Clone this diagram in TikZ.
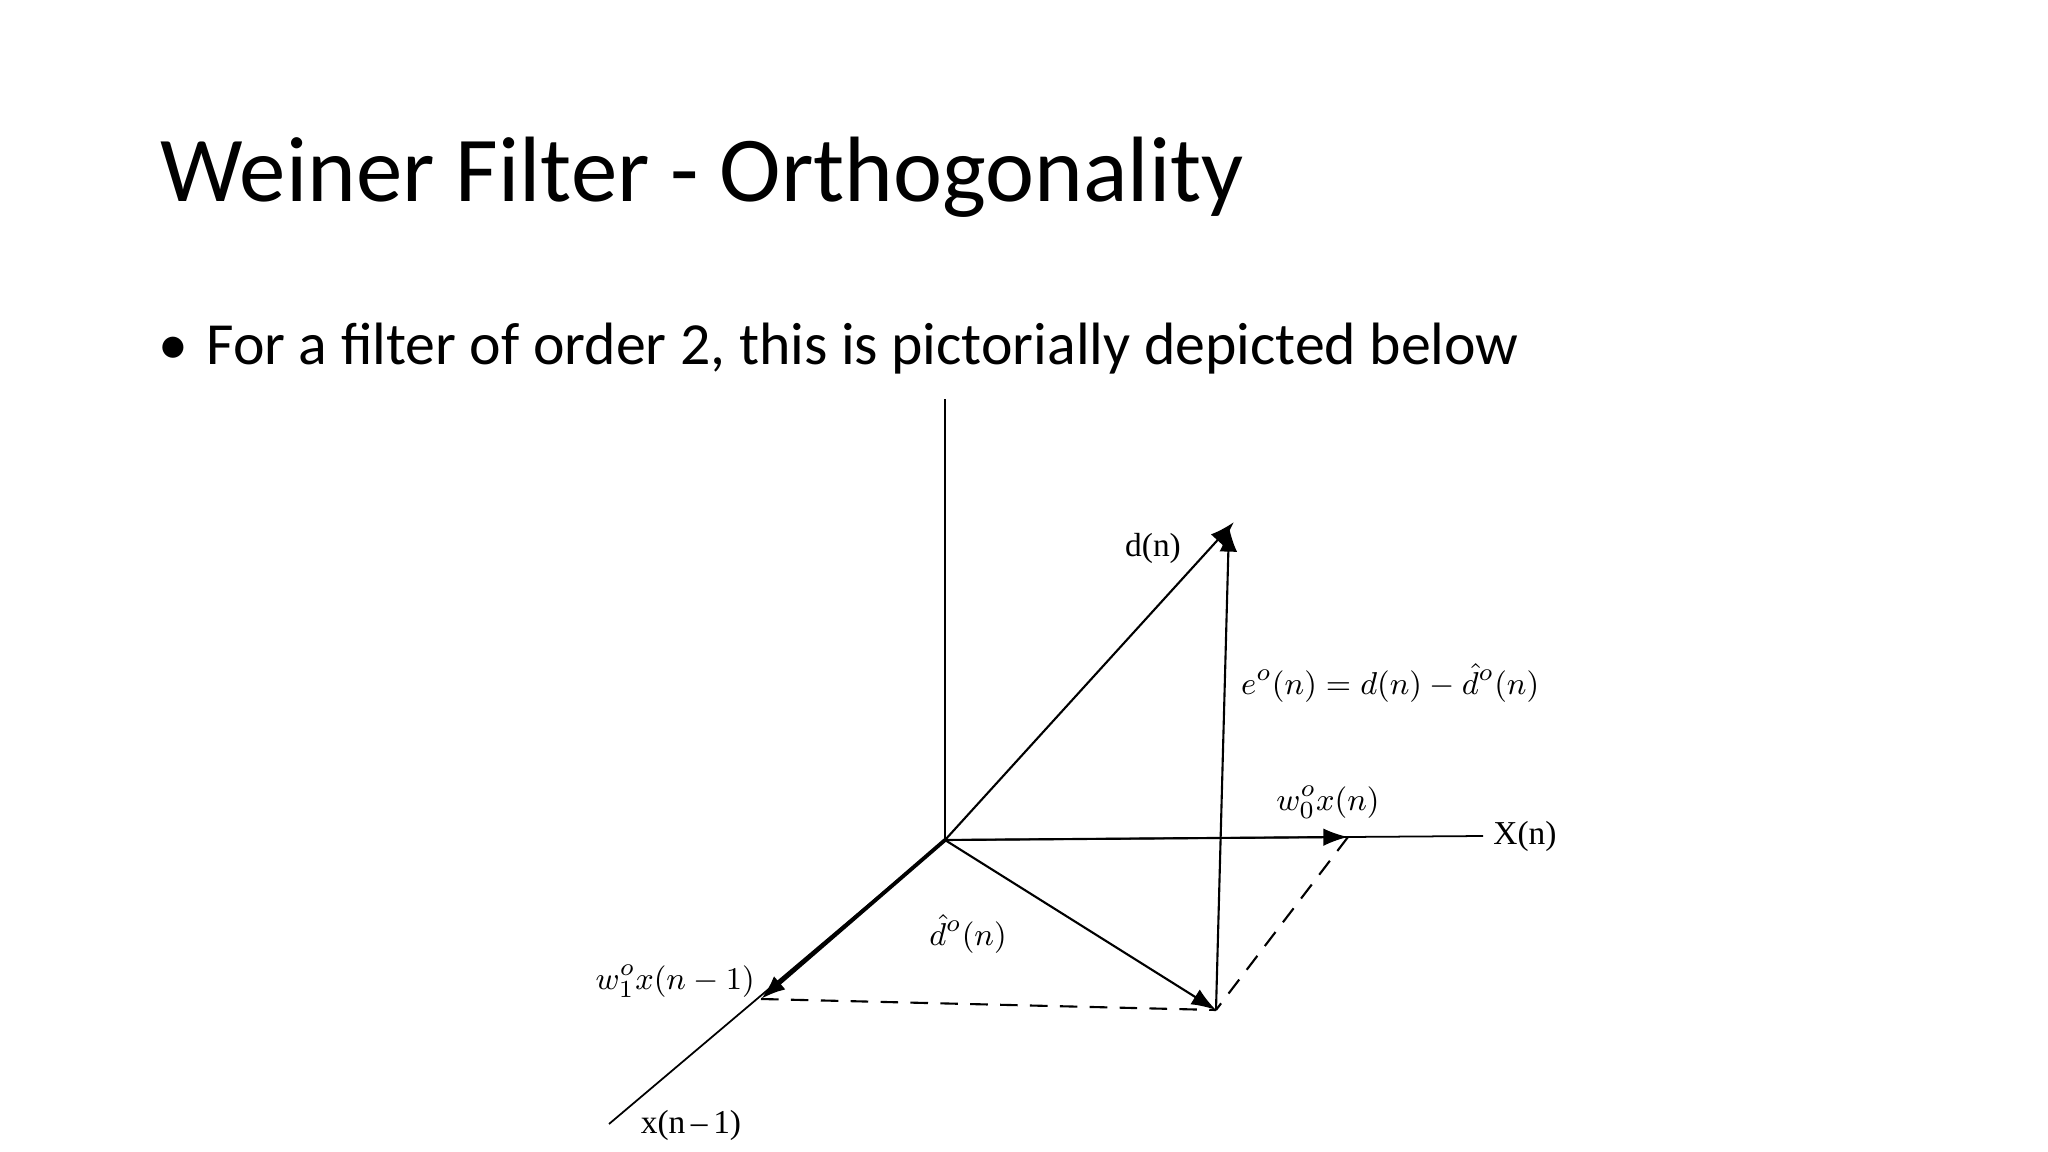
\documentclass[tikz,border=0pt]{standalone}
\usepackage{fontspec}
\setmainfont{Carlito}
\newfontfamily\figfont{Liberation Serif}
\usetikzlibrary{arrows.meta}
\begin{document}
\begin{tikzpicture}[x=0.01cm,y=-0.01cm,
  ax/.style={line width=0.5pt},
  vec/.style={line width=0.6pt,-{Latex[length=7pt,width=5pt]}},
  dsh/.style={line width=0.6pt,dash pattern=on 5pt off 3.5pt},
  lbl/.style={font=\figfont\fontsize{9.5}{11}\selectfont,inner sep=1pt}]
\useasboundingbox (0,0) rectangle (2048,1152);
\node[anchor=base west,inner sep=0,font=\fontsize{26.4}{30}\selectfont] (title) at (160,202) {Weiner Filter - Orthogonality};
\node[anchor=base west,inner sep=0,font=\fontsize{17}{20}\selectfont] (bullet) at (158,365) {\textbullet\hspace{0.3em}For a filter of order 2, this is pictorially depicted below};
\begin{scope}[shift={(-9,-6)}]
\coordinate (O) at (954,846);
\coordinate (Zt) at (954,405);
\coordinate (Xe) at (1492,842);
\coordinate (Ye) at (618,1130);
\coordinate (D) at (1243,528);
\coordinate (E) at (1238,533);
\coordinate (H) at (1225,1016);
\coordinate (W0) at (1357,843);
\coordinate (W1) at (770,1005);
\draw[ax] (O) -- (Zt);
\draw[ax] (O) -- (Xe);
\draw[ax] (O) -- (Ye);
\draw[vec] (O) -- (D);
\draw[vec] (H) -- (E);
\draw[vec] (O) -- (W0);
\draw[vec,line width=1.1pt] (O) -- (W1);
\draw[vec] (O) -- (H);
\draw[dsh] (W1) -- (H);
\draw[dsh] (W0) -- (H);
\node[lbl] (lX) at (1534,842) {X(n)};
\node[lbl] (lY) at (700,1131) {x(n\,–\,1)};
\node[lbl] (lD) at (1162,554) {d(n)};
\node[lbl,anchor=west] (lE) at (1246,689) {$e^o(n)=d(n)-\hat{d}^o(n)$};
\node[lbl] (lW0) at (1337,808) {$w_0^o x(n)$};
\node[lbl,anchor=east] (lW1) at (768,987) {$w_1^o x(n-1)$};
\node[lbl] (lH) at (977,940) {$\hat{d}^o(n)$};
\end{scope}
\end{tikzpicture}
\end{document}
